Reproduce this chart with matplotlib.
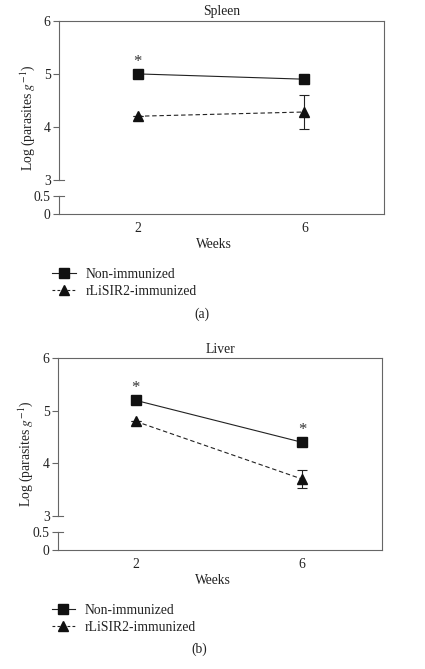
"""Spleen / liver parasite burden, broken y axis."""

import matplotlib
matplotlib.use("Agg")
import matplotlib.pyplot as plt
from matplotlib.lines import Line2D
import numpy as np

matplotlib.rcParams.update(
    {
        "font.family": ["Liberation Serif", "DejaVu Serif"],
        "mathtext.fontset": "stix",
        "font.size": 9.8,
        "text.color": "#222222",
        "axes.labelcolor": "#222222",
        "xtick.color": "#222222",
        "ytick.color": "#555555",
    }
)

weeks = [2, 6]
series_labels = ["Non-immunized", "rLiSIR2-immunized"]

spleen_non = [5.0, 4.9]
spleen_imm = [4.2, 4.28]
spleen_imm_err = [0.0, 0.32]
spleen_star_weeks = [2]

liver_non = [5.2, 4.4]
liver_imm = [4.8, 3.7]
liver_imm_err = [0.0, 0.17]
liver_star_weeks = [2, 6]

yticks = [0, 0.5, 3, 4, 5, 6]
ytick_labels = ["0", "0.5", "3", "4", "5", "6"]

AX_COLOR = "#666666"
LINE_COLOR = "#222222"
MARK_COLOR = "#111111"
DASH = (0, (4, 2.5))


# broken axis: 0-0.5 compressed, 0.5-3 collapsed, 3-6 expanded
def _fwd(v):
    v = np.asarray(v, dtype=float)
    return np.where(v <= 0.5, v * 36.0,
                    np.where(v <= 3, 18.0 + (v - 0.5) * 6.52, 34.3 + (v - 3) * 52.9))


def _inv(p):
    p = np.asarray(p, dtype=float)
    return np.where(p <= 18.0, p / 36.0,
                    np.where(p <= 34.3, 0.5 + (p - 18.0) / 6.52, 3 + (p - 34.3) / 52.9))


def draw_panel(ax, title, non, imm, imm_err, star_weeks, xlim, ylabel_x):
    ax.set_yscale("function", functions=(_fwd, _inv))
    ax.set_ylim(0, 6)
    ax.set_xlim(*xlim)

    ax.plot(weeks, non, color=LINE_COLOR, lw=0.8, marker="s", ms=6.5,
            mfc=MARK_COLOR, mec=MARK_COLOR)
    ax.errorbar(weeks, imm, yerr=imm_err, color=LINE_COLOR, lw=0.8, ls=DASH,
                marker="^", ms=6.5, mfc=MARK_COLOR, mec=MARK_COLOR, capsize=3.5,
                elinewidth=0.8, capthick=0.8)

    for w in star_weeks:
        y = non[weeks.index(w)]
        ax.annotate("*", (w, y), xytext=(0, 3), textcoords="offset points",
                    ha="center", va="bottom", fontsize=12, color="#333333")

    for side in ["top", "right", "bottom", "left"]:
        ax.spines[side].set_color(AX_COLOR)
        ax.spines[side].set_linewidth(0.8)
    ax.spines["left"].set_bounds(3, 6)
    yt = ax.get_yaxis_transform()
    ax.plot([0, 0], [0, 0.5], transform=yt, color=AX_COLOR, lw=0.8, clip_on=False)
    for b in [3, 0.5]:
        ax.plot([0, 0.014], [b, b], transform=yt, color=AX_COLOR, lw=0.8, clip_on=False)

    ax.set_yticks(yticks)
    ax.set_yticklabels(ytick_labels)
    ax.tick_params(axis="y", direction="out", length=4, width=0.8, pad=2, colors=AX_COLOR,
                   labelcolor="#222222")
    ax.set_xticks(weeks)
    ax.tick_params(axis="x", length=0, pad=6)

    ax.set_title(title, fontsize=9.8, pad=4)
    ax.set_ylabel(r"Log (parasites $g^{-1}$)")
    ax.yaxis.set_label_coords(ylabel_x, 0.5)
    ax.set_xlabel("Weeks")
    ax.xaxis.set_label_coords(0.477, -0.125)

    handles = [
        Line2D([], [], color=LINE_COLOR, lw=0.8, marker="s", ms=6.5, mfc=MARK_COLOR, mec=MARK_COLOR),
        Line2D([], [], color=LINE_COLOR, lw=0.8, ls=(0, (2.5, 2)), marker="^", ms=6.5,
               mfc=MARK_COLOR, mec=MARK_COLOR),
    ]
    ax.legend(handles, series_labels, loc="upper left", bbox_to_anchor=(-0.02, -0.28),
              frameon=False, handlelength=1.7, handletextpad=0.75, labelspacing=0.3,
              borderpad=0, borderaxespad=0)


fig = plt.figure(figsize=(4.25, 6.69), dpi=100)
ax_a = fig.add_axes([0.1388, 0.6801, 0.7647, 0.2885])
ax_b = fig.add_axes([0.1365, 0.1779, 0.7630, 0.2865])

draw_panel(ax_a, "Spleen", spleen_non, spleen_imm, spleen_imm_err, spleen_star_weeks,
           (0.11, 7.91), -0.068)
draw_panel(ax_b, "Liver", liver_non, liver_imm, liver_imm_err, liver_star_weeks,
           (0.135, 7.92), -0.072)

fig.text(201.7 / 425, 1 - 314.3 / 669, "(a)", ha="center", va="center")
fig.text(199 / 425, 1 - 649.3 / 669, "(b)", ha="center", va="center")

fig.savefig("out.png", dpi=100)
